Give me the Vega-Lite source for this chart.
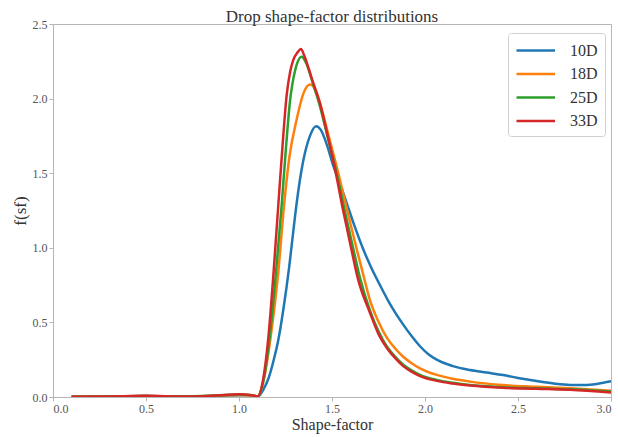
{
  "$schema": "https://vega.github.io/schema/vega-lite/v6.json",
  "autosize": "none",
  "width": 558,
  "height": 373,
  "padding": {"left": 53, "top": 24, "right": 7, "bottom": 40},
  "background": "white",
  "config": {
    "font": "Liberation Serif",
    "view": {"stroke": "#b5b5b5", "strokeWidth": 1},
    "axis": {"grid": false, "domainColor": "#b5b5b5", "tickColor": "#b5b5b5", "tickSize": 4, "labelFont": "Liberation Serif", "labelFontSize": 12, "labelColor": "#555", "titleFont": "Liberation Serif", "titleFontSize": 17, "titleFontWeight": "normal", "titleColor": "#333"}
  },
  "title": {"text": "Drop shape-factor distributions", "frame": "group", "anchor": "middle", "font": "Liberation Serif", "fontSize": 17, "fontWeight": "normal", "color": "#333", "offset": 4, "dy": 12},
  "data": {"values": [
    {"s":"10D","x":0.1,"y":0.002},{"s":"10D","x":0.3,"y":0.003},{"s":"10D","x":0.5,"y":0.006},{"s":"10D","x":0.7,"y":0.003},{"s":"10D","x":0.9,"y":0.008},{"s":"10D","x":1.0,"y":0.012},{"s":"10D","x":1.07,"y":0.012},{"s":"10D","x":1.1,"y":0.002},
    {"s":"10D","x":1.131,"y":0.05},{"s":"10D","x":1.16,"y":0.13},{"s":"10D","x":1.185,"y":0.24},{"s":"10D","x":1.211,"y":0.38},{"s":"10D","x":1.24,"y":0.6},{"s":"10D","x":1.27,"y":0.874},{"s":"10D","x":1.29,"y":1.09},{"s":"10D","x":1.31,"y":1.3},{"s":"10D","x":1.345,"y":1.58},{"s":"10D","x":1.38,"y":1.745},{"s":"10D","x":1.414,"y":1.815},{"s":"10D","x":1.44,"y":1.79},{"s":"10D","x":1.475,"y":1.68},{"s":"10D","x":1.507,"y":1.55},{"s":"10D","x":1.54,"y":1.44},{"s":"10D","x":1.579,"y":1.3},{"s":"10D","x":1.62,"y":1.15},{"s":"10D","x":1.668,"y":0.99},{"s":"10D","x":1.71,"y":0.87},{"s":"10D","x":1.758,"y":0.75},{"s":"10D","x":1.8,"y":0.65},{"s":"10D","x":1.84,"y":0.565},{"s":"10D","x":1.883,"y":0.485},{"s":"10D","x":1.93,"y":0.405},{"s":"10D","x":1.973,"y":0.34},{"s":"10D","x":2.02,"y":0.285},{"s":"10D","x":2.063,"y":0.25},{"s":"10D","x":2.15,"y":0.207},{"s":"10D","x":2.242,"y":0.181},{"s":"10D","x":2.33,"y":0.164},{"s":"10D","x":2.42,"y":0.147},{"s":"10D","x":2.5,"y":0.128},{"s":"10D","x":2.6,"y":0.107},{"s":"10D","x":2.7,"y":0.089},{"s":"10D","x":2.78,"y":0.081},{"s":"10D","x":2.86,"y":0.08},{"s":"10D","x":2.93,"y":0.089},{"s":"10D","x":3.0,"y":0.105},
    {"s":"18D","x":0.1,"y":0.002},{"s":"18D","x":0.3,"y":0.004},{"s":"18D","x":0.5,"y":0.007},{"s":"18D","x":0.7,"y":0.003},{"s":"18D","x":0.9,"y":0.01},{"s":"18D","x":1.0,"y":0.014},{"s":"18D","x":1.07,"y":0.01},{"s":"18D","x":1.1,"y":0.004},
    {"s":"18D","x":1.13,"y":0.1},{"s":"18D","x":1.17,"y":0.4},{"s":"18D","x":1.21,"y":0.82},{"s":"18D","x":1.242,"y":1.28},{"s":"18D","x":1.27,"y":1.6},{"s":"18D","x":1.31,"y":1.86},{"s":"18D","x":1.345,"y":2.03},{"s":"18D","x":1.382,"y":2.094},{"s":"18D","x":1.41,"y":2.06},{"s":"18D","x":1.44,"y":1.95},{"s":"18D","x":1.48,"y":1.76},{"s":"18D","x":1.534,"y":1.5},{"s":"18D","x":1.58,"y":1.26},{"s":"18D","x":1.633,"y":0.99},{"s":"18D","x":1.668,"y":0.82},{"s":"18D","x":1.704,"y":0.65},{"s":"18D","x":1.75,"y":0.505},{"s":"18D","x":1.794,"y":0.4},{"s":"18D","x":1.84,"y":0.325},{"s":"18D","x":1.883,"y":0.27},{"s":"18D","x":1.93,"y":0.225},{"s":"18D","x":1.973,"y":0.192},{"s":"18D","x":2.063,"y":0.148},{"s":"18D","x":2.15,"y":0.122},{"s":"18D","x":2.242,"y":0.103},{"s":"18D","x":2.42,"y":0.08},{"s":"18D","x":2.6,"y":0.069},{"s":"18D","x":2.78,"y":0.058},{"s":"18D","x":3.0,"y":0.042},
    {"s":"25D","x":0.1,"y":0.002},{"s":"25D","x":0.3,"y":0.004},{"s":"25D","x":0.5,"y":0.007},{"s":"25D","x":0.7,"y":0.003},{"s":"25D","x":0.9,"y":0.011},{"s":"25D","x":1.0,"y":0.016},{"s":"25D","x":1.07,"y":0.011},{"s":"25D","x":1.1,"y":0.004},
    {"s":"25D","x":1.13,"y":0.1},{"s":"25D","x":1.165,"y":0.4},{"s":"25D","x":1.2,"y":0.85},{"s":"25D","x":1.229,"y":1.28},{"s":"25D","x":1.25,"y":1.63},{"s":"25D","x":1.274,"y":1.98},{"s":"25D","x":1.3,"y":2.18},{"s":"25D","x":1.337,"y":2.28},{"s":"25D","x":1.36,"y":2.24},{"s":"25D","x":1.4,"y":2.09},{"s":"25D","x":1.435,"y":1.95},{"s":"25D","x":1.475,"y":1.75},{"s":"25D","x":1.525,"y":1.5},{"s":"25D","x":1.57,"y":1.24},{"s":"25D","x":1.615,"y":0.99},{"s":"25D","x":1.65,"y":0.8},{"s":"25D","x":1.704,"y":0.58},{"s":"25D","x":1.75,"y":0.44},{"s":"25D","x":1.794,"y":0.34},{"s":"25D","x":1.84,"y":0.27},{"s":"25D","x":1.883,"y":0.217},{"s":"25D","x":1.93,"y":0.177},{"s":"25D","x":1.973,"y":0.148},{"s":"25D","x":2.063,"y":0.114},{"s":"25D","x":2.15,"y":0.095},{"s":"25D","x":2.242,"y":0.08},{"s":"25D","x":2.42,"y":0.065},{"s":"25D","x":2.6,"y":0.058},{"s":"25D","x":2.78,"y":0.052},{"s":"25D","x":3.0,"y":0.036},
    {"s":"33D","x":0.1,"y":0.002},{"s":"33D","x":0.3,"y":0.004},{"s":"33D","x":0.5,"y":0.008},{"s":"33D","x":0.7,"y":0.003},{"s":"33D","x":0.9,"y":0.012},{"s":"33D","x":1.0,"y":0.018},{"s":"33D","x":1.07,"y":0.012},{"s":"33D","x":1.1,"y":0.004},
    {"s":"33D","x":1.13,"y":0.12},{"s":"33D","x":1.158,"y":0.4},{"s":"33D","x":1.185,"y":0.82},{"s":"33D","x":1.211,"y":1.28},{"s":"33D","x":1.235,"y":1.7},{"s":"33D","x":1.256,"y":2.02},{"s":"33D","x":1.275,"y":2.18},{"s":"33D","x":1.292,"y":2.26},{"s":"33D","x":1.315,"y":2.31},{"s":"33D","x":1.333,"y":2.333},{"s":"33D","x":1.35,"y":2.29},{"s":"33D","x":1.375,"y":2.2},{"s":"33D","x":1.398,"y":2.11},{"s":"33D","x":1.435,"y":1.97},{"s":"33D","x":1.475,"y":1.76},{"s":"33D","x":1.516,"y":1.53},{"s":"33D","x":1.56,"y":1.25},{"s":"33D","x":1.606,"y":0.98},{"s":"33D","x":1.64,"y":0.79},{"s":"33D","x":1.704,"y":0.565},{"s":"33D","x":1.749,"y":0.425},{"s":"33D","x":1.794,"y":0.33},{"s":"33D","x":1.84,"y":0.26},{"s":"33D","x":1.883,"y":0.207},{"s":"33D","x":1.93,"y":0.168},{"s":"33D","x":1.973,"y":0.14},{"s":"33D","x":2.063,"y":0.108},{"s":"33D","x":2.15,"y":0.09},{"s":"33D","x":2.242,"y":0.077},{"s":"33D","x":2.42,"y":0.062},{"s":"33D","x":2.6,"y":0.055},{"s":"33D","x":2.78,"y":0.048},{"s":"33D","x":3.0,"y":0.03}
  ]},
  "mark": {"type": "line", "strokeWidth": 2.5, "clip": true, "interpolate": "monotone"},
  "encoding": {
    "x": {"field": "x", "type": "quantitative", "title": "Shape-factor", "scale": {"domain": [0, 3], "nice": false}, "axis": {"values": [0, 0.5, 1, 1.5, 2, 2.5, 3], "format": ".1f", "labelPadding": 2, "titlePadding": 2, "titleFontSize": 16}},
    "y": {"field": "y", "type": "quantitative", "title": "f(sf)", "scale": {"domain": [0, 2.5], "nice": false}, "axis": {"values": [0, 0.5, 1, 1.5, 2, 2.5], "format": ".1f", "labelPadding": 2, "titlePadding": 3}},
    "color": {"field": "s", "type": "nominal", "scale": {"domain": ["10D", "18D", "25D", "33D"], "range": ["#1f77b4", "#ff7f0e", "#2ca02c", "#d62728"]},
      "legend": {"title": null, "orient": "none", "legendX": 455, "legendY": 9, "symbolType": "M-1,0H3.28", "symbolSize": 324, "symbolStrokeWidth": 2.5, "labelFont": "Liberation Serif", "labelFontSize": 16, "labelColor": "#333", "rowPadding": 4.5, "padding": 7, "strokeColor": "#d0d0d0", "fillColor": "white", "cornerRadius": 3, "labelOffset": 34}
    }
  }
}
